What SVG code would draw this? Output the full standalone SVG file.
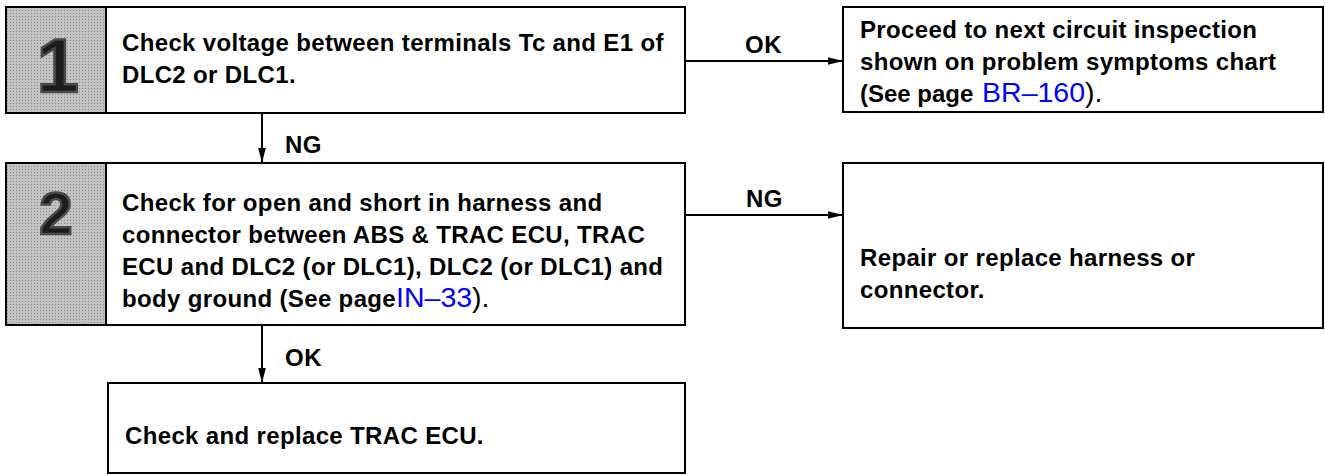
<svg xmlns="http://www.w3.org/2000/svg" width="1325" height="475" viewBox="0 0 1325 475">
<defs>
<pattern id="dots" width="3" height="3" patternUnits="userSpaceOnUse">
<rect width="3" height="3" fill="#c2c2c2"/>
<rect x="1" y="1" width="1" height="1" fill="#8a8a8a"/>
</pattern>
<marker id="ah" markerWidth="16" markerHeight="10" refX="15" refY="5" orient="auto" markerUnits="userSpaceOnUse">
<path d="M0,1.2 L15,5 L0,8.8 Z" fill="#000"/>
</marker>
<style>
.box{fill:#fff;stroke:#000;stroke-width:2}
.num{fill:url(#dots);stroke:#000;stroke-width:2}
.t{font-family:"Liberation Sans",Arial,sans-serif;font-weight:bold;font-size:24px;letter-spacing:0.35px;fill:#000}
.lnk{font-family:"Liberation Sans",Arial,sans-serif;font-weight:normal;font-size:28.5px;letter-spacing:0;fill:#0000ff}
.par{font-family:"Liberation Sans",Arial,sans-serif;font-weight:normal;font-size:28.5px;letter-spacing:0;fill:#000}
.dig{font-family:"Liberation Sans",Arial,sans-serif;font-weight:bold;fill:#1c1c1c;stroke:#4a4a4a;stroke-width:2.5;text-anchor:middle}
.lbl{font-family:"Liberation Sans",Arial,sans-serif;font-weight:bold;font-size:24px;letter-spacing:0.5px;fill:#000}
.c{stroke:#000;stroke-width:2;fill:none;marker-end:url(#ah)}
</style>
</defs>
<rect width="1325" height="475" fill="#fff"/>

<g id="step1">
<rect class="box" x="106" y="7" width="579" height="106"/>
<rect class="num" x="6" y="7" width="100" height="106"/>
<text class="dig" x="58" y="92" font-size="76">1</text>
<text class="t" x="122" y="51">Check voltage between terminals Tc and E1 of</text>
<text class="t" x="122" y="83">DLC2 or DLC1.</text>
</g>

<g id="proceed">
<rect class="box" x="843" y="7" width="480" height="105"/>
<text class="t" x="860" y="38">Proceed to next circuit inspection</text>
<text class="t" x="860" y="70">shown on problem symptoms chart</text>
<text class="t" x="860" y="102" style="letter-spacing:0">(See page <tspan class="lnk" dx="2" font-size="30">BR–160</tspan><tspan class="par">).</tspan></text>
</g>

<g id="step2">
<rect class="box" x="106" y="163" width="579" height="162"/>
<rect class="num" x="6" y="163" width="100" height="162"/>
<text class="dig" x="56" y="234" font-size="60">2</text>
<text class="t" x="122" y="211">Check for open and short in harness and</text>
<text class="t" x="122" y="243">connector between ABS &amp; TRAC ECU, TRAC</text>
<text class="t" x="122" y="275">ECU and DLC2 (or DLC1), DLC2 (or DLC1) and</text>
<text class="t" x="122" y="307">body ground (See page<tspan class="lnk">IN–33</tspan><tspan class="par">).</tspan></text>
</g>

<g id="repair">
<rect class="box" x="843" y="163" width="480" height="165"/>
<text class="t" x="860" y="266">Repair or replace harness or</text>
<text class="t" x="860" y="298">connector.</text>
</g>

<g id="replace">
<rect class="box" x="108" y="383" width="577" height="90"/>
<text class="t" x="125" y="444">Check and replace TRAC ECU.</text>
</g>

<g id="connectors">
<line class="c" x1="685" y1="61" x2="843" y2="61"/>
<text class="lbl" x="745" y="53">OK</text>
<line class="c" x1="262" y1="113" x2="262" y2="163"/>
<text class="lbl" x="285" y="153">NG</text>
<line class="c" x1="685" y1="215" x2="843" y2="215"/>
<text class="lbl" x="746" y="207">NG</text>
<line class="c" x1="262" y1="325" x2="262" y2="383"/>
<text class="lbl" x="285" y="366">OK</text>
</g>
</svg>
